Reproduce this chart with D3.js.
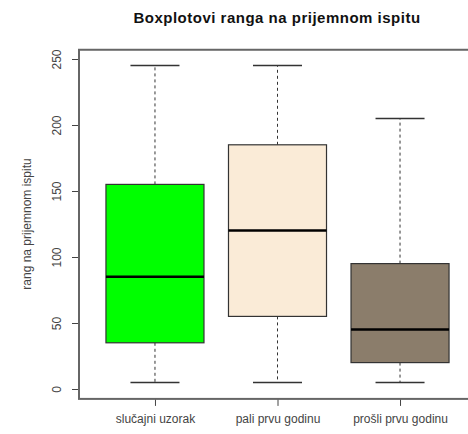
<!DOCTYPE html>
<html>
<head>
<meta charset="utf-8">
<script src="https://cdn.jsdelivr.net/npm/d3@7"></script>
<style>
  body { margin: 0; background: #fff; }
  svg { display: block; font-family: "Liberation Sans", Arial, sans-serif; }
</style>
</head>
<body>
<div id="chart"></div>
<script>
// groups and five-number summaries
const groups = ["slučajni uzorak", "pali prvu godinu", "prošli prvu godinu"];
const whiskerLow  = [5, 5, 5];
const boxLow      = [35, 55, 20];
const medians     = [85, 120, 45];
const boxHigh     = [155, 185, 95];
const whiskerHigh = [245, 245, 205];
const fills = ["#00ff00", "#faebd7", "#8b7d6b"];
const yTicks = [0, 50, 100, 150, 200, 250];

const W = 468, H = 434;

const svg = d3.select("#chart").append("svg")
  .attr("width", W)
  .attr("height", H);

// scales
const x = d3.scaleLinear().domain([0.38, 3.62]).range([79, 476]);
const y = d3.scaleLinear().domain([0, 250]).range([389, 59]);

const frameTop = y(257), frameBottom = y(-7.5);
const boxW = x(0.8) - x(0);
const capW = x(0.4) - x(0);

// title
svg.append("text")
  .attr("x", 277).attr("y", 23)
  .attr("text-anchor", "middle")
  .style("font-size", "15px")
  .style("font-weight", "bold")
  .style("letter-spacing", "0.5px")
  .attr("fill", "#111")
  .text("Boxplotovi ranga na prijemnom ispitu");

// y axis
const yAxis = svg.append("g")
  .attr("transform", `translate(${x(0.38)},0)`)
  .call(d3.axisLeft(y).tickValues(yTicks).tickSize(7).tickSizeOuter(0));
yAxis.select(".domain").remove();
yAxis.selectAll(".tick line").attr("stroke", "#444");
yAxis.selectAll(".tick text")
  .attr("x", 0).attr("y", 0).attr("dy", 0)
  .attr("text-anchor", "middle")
  .attr("transform", "translate(-18,0) rotate(-90)")
  .style("font-size", "12px")
  .attr("fill", "#444");

svg.append("text")
  .attr("transform", `translate(31,${y(125)}) rotate(-90)`)
  .attr("text-anchor", "middle")
  .style("font-size", "12px")
  .attr("fill", "#444")
  .text("rang na prijemnom ispitu");

// x axis ticks + labels
const xAxis = svg.append("g")
  .attr("transform", `translate(0,${frameBottom})`)
  .call(d3.axisBottom(x).tickValues([1, 2, 3]).tickSize(7).tickFormat((d, i) => groups[i]));
xAxis.select(".domain").remove();
xAxis.selectAll(".tick line").attr("stroke", "#444");
xAxis.selectAll(".tick text")
  .attr("y", 16)
  .style("font-size", "12px")
  .attr("fill", "#444");

// plot frame
svg.append("rect")
  .attr("x", x(0.38)).attr("y", frameTop)
  .attr("width", x(3.62) - x(0.38))
  .attr("height", frameBottom - frameTop)
  .attr("fill", "none")
  .attr("stroke", "#666")
  .attr("stroke-width", 2);

// boxes
const idx = d3.range(groups.length);
const g = svg.selectAll(".box").data(idx).join("g").attr("class", "box");

// whiskers (dashed)
g.append("line")
  .attr("x1", i => x(i + 1)).attr("x2", i => x(i + 1))
  .attr("y1", i => y(boxHigh[i])).attr("y2", i => y(whiskerHigh[i]))
  .attr("stroke", "#333").attr("stroke-dasharray", "3,3");
g.append("line")
  .attr("x1", i => x(i + 1)).attr("x2", i => x(i + 1))
  .attr("y1", i => y(boxLow[i])).attr("y2", i => y(whiskerLow[i]))
  .attr("stroke", "#333").attr("stroke-dasharray", "3,3");

// caps
g.append("line")
  .attr("x1", i => x(i + 1) - capW / 2).attr("x2", i => x(i + 1) + capW / 2)
  .attr("y1", i => y(whiskerHigh[i])).attr("y2", i => y(whiskerHigh[i]))
  .attr("stroke", "#333").attr("stroke-width", 1.5);
g.append("line")
  .attr("x1", i => x(i + 1) - capW / 2).attr("x2", i => x(i + 1) + capW / 2)
  .attr("y1", i => y(whiskerLow[i])).attr("y2", i => y(whiskerLow[i]))
  .attr("stroke", "#333").attr("stroke-width", 1.5);

// box body
g.append("rect")
  .attr("x", i => x(i + 1) - boxW / 2)
  .attr("width", boxW)
  .attr("y", i => y(boxHigh[i]))
  .attr("height", i => y(boxLow[i]) - y(boxHigh[i]))
  .attr("fill", i => fills[i])
  .attr("stroke", "#333")
  .attr("stroke-width", 1.2);

// median
g.append("line")
  .attr("x1", i => x(i + 1) - boxW / 2).attr("x2", i => x(i + 1) + boxW / 2)
  .attr("y1", i => y(medians[i])).attr("y2", i => y(medians[i]))
  .attr("stroke", "#000").attr("stroke-width", 2.5);
</script>
</body>
</html>
